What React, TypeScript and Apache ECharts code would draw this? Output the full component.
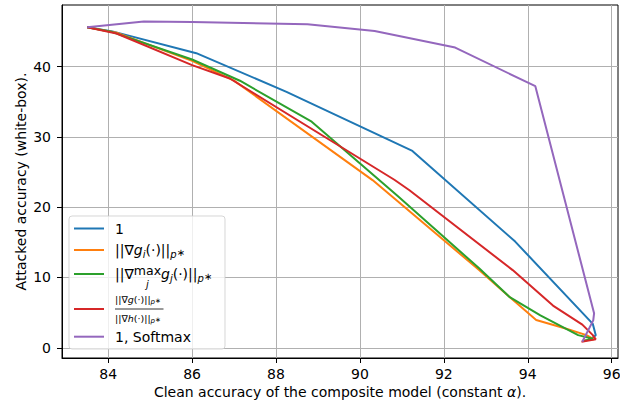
import React, { useEffect, useRef } from "react";
import * as echarts from "echarts";

// ---------- data ----------
const X_TICKS = [84, 86, 88, 90, 92, 94, 96];
const Y_TICKS = [0, 10, 20, 30, 40];

const NAMES = [
  "1",
  "||∇g_i(·)||_p*",
  "||∇max_j g_j(·)||_p*",
  "||∇g(·)||_p* / ||∇h(·)||_p*",
  "1, Softmax",
];
const COLORS = ["#1f77b4", "#ff7f0e", "#2ca02c", "#d62728", "#9467bd"];

const blueX = [83.5, 84.1, 86.1, 88.25, 91.25, 93.7, 95.55, 95.62, 95.5];
const blueY = [45.6, 45.0, 41.9, 36.4, 28.0, 15.1, 3.4, 1.8, 1.2];

const orangeX = [83.5, 84.2, 86.0, 87.0, 90.3, 92.0, 92.84, 93.56, 94.2, 94.9, 95.4, 95.58, 95.3];
const orangeY = [45.6, 44.8, 40.8, 38.0, 23.85, 15.3, 11.05, 7.25, 3.95, 2.75, 1.8, 1.2, 1.0];

const greenX = [83.5, 84.1, 86.0, 87.14, 88.85, 90.9, 92.84, 93.56, 94.3, 95.2, 95.55, 95.3];
const greenY = [45.6, 44.9, 41.0, 37.98, 32.15, 21.6, 11.3, 7.25, 4.6, 1.8, 1.3, 0.95];

const redX = [83.5, 84.2, 86.0, 86.9, 90.82, 91.18, 93.64, 94.6, 95.3, 95.55, 95.62, 95.28];
const redY = [45.6, 44.7, 40.2, 38.3, 23.9, 22.4, 11.05, 6.0, 3.3, 1.8, 1.2, 0.85];

const purpleX = [83.5, 84.85, 86.0, 88.75, 90.35, 92.27, 94.18, 95.58, 95.56, 95.3];
const purpleY = [45.6, 46.4, 46.35, 46.0, 45.05, 42.7, 37.2, 4.9, 3.9, 0.85];

const SERIES_X = [blueX, orangeX, greenX, redX, purpleX];
const SERIES_Y = [blueY, orangeY, greenY, redY, purpleY];

const FONT = "DejaVu Sans";

type Frag = { t: string; s: number; it?: boolean; dy?: number; under?: boolean };

let measureCtx: CanvasRenderingContext2D | null = null;
function measure(t: string, s: number, it?: boolean) {
  if (!measureCtx) measureCtx = document.createElement("canvas").getContext("2d");
  if (!measureCtx) return t.length * s * 0.6;
  measureCtx.font = `${it ? "italic " : ""}${s}px "${FONT}"`;
  return measureCtx.measureText(t).width;
}

function mathText(frags: Frag[], x0: number, yc: number) {
  const els: any[] = [];
  let cur = x0;
  let last: { x: number; w: number } | null = null;
  for (const f of frags) {
    const w = measure(f.t, f.s, f.it);
    let x = cur;
    if (f.under && last) x = last.x + last.w / 2 - w / 2;
    els.push({
      type: "text",
      x,
      y: yc + (f.dy || 0),
      z: 102,
      silent: true,
      style: {
        text: f.t,
        fontSize: f.s,
        fontFamily: FONT,
        fontStyle: f.it ? "italic" : "normal",
        fill: "#000",
        align: "left",
        verticalAlign: "middle",
      },
    });
    if (!f.under) {
      last = { x, w };
      cur += w;
    }
  }
  return els;
}

function buildLegend() {
  const els: any[] = [];
  els.push({
    type: "rect",
    z: 100,
    silent: true,
    shape: { x: 69, y: 216, width: 156, height: 133, r: 3 },
    style: { fill: "rgba(255,255,255,0.8)", stroke: "rgba(204,204,204,0.8)", lineWidth: 1 },
  });
  const ys = [228.5, 250, 274, 309, 336.7];
  ys.forEach((y, i) => {
    els.push({
      type: "line",
      z: 101,
      silent: true,
      shape: { x1: 74, y1: y, x2: 104, y2: y },
      style: { stroke: COLORS[i], lineWidth: 2 },
    });
  });
  const tx = 115;
  els.push(...mathText([{ t: "1", s: 14 }], tx, ys[0]));
  els.push(
    ...mathText(
      [
        { t: "||∇", s: 14 },
        { t: "g", s: 14, it: true },
        { t: "i", s: 10, it: true, dy: 4 },
        { t: "(·)||", s: 14 },
        { t: "p", s: 10, it: true, dy: 4 },
        { t: "∗", s: 10, dy: 2 },
      ],
      tx,
      ys[1]
    )
  );
  els.push(
    ...mathText(
      [
        { t: "||∇", s: 14 },
        { t: "max", s: 12.5, dy: -4 },
        { t: "j", s: 10, it: true, dy: 10, under: true },
        { t: "g", s: 14, it: true },
        { t: "j", s: 10, it: true, dy: 4 },
        { t: "(·)||", s: 14 },
        { t: "p", s: 10, it: true, dy: 4 },
        { t: "∗", s: 10, dy: 2 },
      ],
      tx,
      ys[2]
    )
  );
  const num = mathText(
    [
      { t: "||∇", s: 9.5 },
      { t: "g", s: 9.5, it: true },
      { t: "(·)||", s: 9.5 },
      { t: "p", s: 7, it: true, dy: 2.5 },
      { t: "∗", s: 7, dy: 1.5 },
    ],
    tx,
    299.5
  );
  const den = mathText(
    [
      { t: "||∇", s: 9.5 },
      { t: "h", s: 9.5, it: true },
      { t: "(·)||", s: 9.5 },
      { t: "p", s: 7, it: true, dy: 2.5 },
      { t: "∗", s: 7, dy: 1.5 },
    ],
    tx,
    318
  );
  els.push(...num, ...den);
  els.push({
    type: "line",
    z: 101,
    silent: true,
    shape: { x1: tx, y1: 309, x2: 163.5, y2: 309 },
    style: { stroke: "#000", lineWidth: 0.8 },
  });
  els.push(...mathText([{ t: "1, Softmax", s: 14 }], tx, ys[4]));
  return els;
}

export default function App() {
  const ref = useRef<HTMLDivElement>(null);
  useEffect(() => {
    if (!ref.current) return;
    const chart = echarts.init(ref.current, null, { renderer: "svg" });
    const axisCommon = {
      axisLine: { show: true, onZero: false, lineStyle: { color: "#000", width: 1 } },
      axisTick: { show: true, inside: false, length: 5, lineStyle: { color: "#000", width: 1 } },
      splitLine: { show: true, lineStyle: { color: "#b0b0b0", width: 1 } },
    };
    chart.setOption({
      animation: false,
      backgroundColor: "#fff",
      textStyle: { fontFamily: FONT },
      grid: {
        left: 62,
        right: 2,
        top: 5,
        bottom: 44,
        show: true,
        borderColor: "#000",
        borderWidth: 1,
        backgroundColor: "transparent",
        containLabel: false,
        outerBoundsMode: "none",
      },
      xAxis: {
        type: "value",
        min: 82.9,
        max: 96.15,
        minInterval: 2,
        maxInterval: 2,
        ...axisCommon,
        axisTick: { ...axisCommon.axisTick, customValues: X_TICKS },
        axisLabel: {
          customValues: X_TICKS,
          margin: 9,
          fontSize: 14,
          color: "#000",
          fontFamily: FONT,
        },
        name: "Clean accuracy of the composite model (constant {i|α}).",
        nameLocation: "middle",
        nameGap: 27,
        nameMoveOverlap: false,
        nameTextStyle: {
          fontSize: 14,
          color: "#000",
          fontFamily: FONT,
          rich: { i: { fontSize: 14, fontStyle: "italic", color: "#000", fontFamily: FONT } },
        },
      },
      yAxis: {
        type: "value",
        min: -1.45,
        max: 48.75,
        minInterval: 10,
        maxInterval: 10,
        ...axisCommon,
        axisTick: { ...axisCommon.axisTick, customValues: Y_TICKS },
        axisLabel: {
          customValues: Y_TICKS,
          margin: 11,
          fontSize: 14,
          color: "#000",
          fontFamily: FONT,
        },
        name: "Attacked accuracy (white-box).",
        nameLocation: "middle",
        nameGap: 34,
        nameMoveOverlap: false,
        nameTextStyle: { fontSize: 14, color: "#000", fontFamily: FONT },
      },
      series: NAMES.map((name, i) => ({
        name,
        type: "line",
        showSymbol: false,
        symbol: "none",
        color: COLORS[i],
        lineStyle: { color: COLORS[i], width: 2 },
        data: SERIES_X[i].map((x, k) => [x, SERIES_Y[i][k]]),
        z: 2 + i,
      })),
      graphic: { elements: buildLegend() },
    });
    return () => chart.dispose();
  }, []);
  return (
    <div
      ref={ref}
      style={{ position: "fixed", left: 0, top: 0, width: 620, height: 402, background: "#fff" }}
    />
  );
}
